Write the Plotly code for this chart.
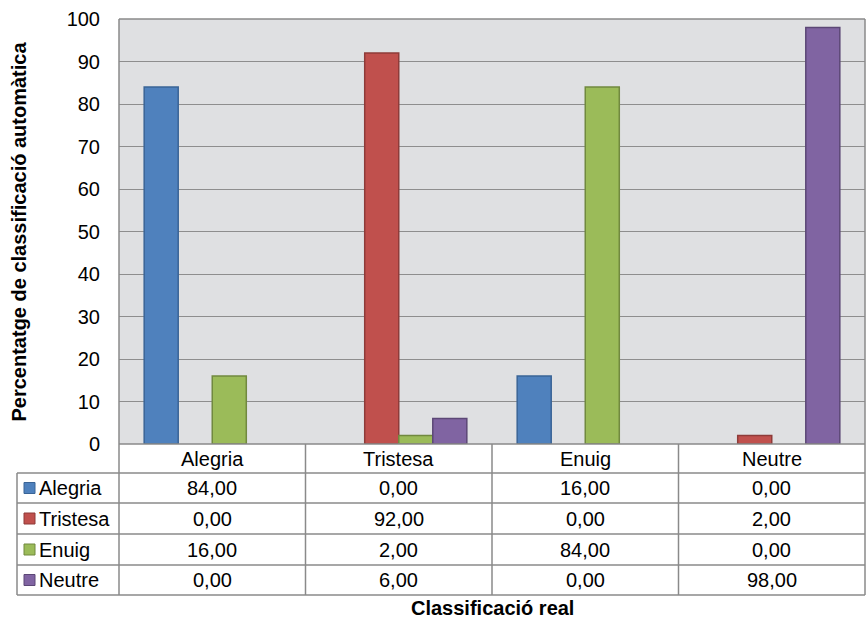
import plotly.graph_objects as go

# Data
categories = ["Alegria", "Tristesa", "Enuig", "Neutre"]
series_names = ["Alegria", "Tristesa", "Enuig", "Neutre"]
alegria = [84, 0, 16, 0]
tristesa = [0, 92, 0, 2]
enuig = [16, 2, 84, 0]
neutre = [0, 6, 0, 98]
series_values = [alegria, tristesa, enuig, neutre]
y_ticks = [0, 10, 20, 30, 40, 50, 60, 70, 80, 90, 100]

fills = ["#4F81BD", "#C0504D", "#9BBB59", "#8064A2"]
edges = ["#3A6496", "#8E3B39", "#71893F", "#5C4776"]

W, H = 867, 624
L, R, T, B = 119, 865, 19, 444          # plot area in pixels
FONT = "Liberation Sans, Arial, sans-serif"
TXT = 20
TITLE = 20
GRID = "#8E8E8E"
LINE = "#8A8A8A"


def pxx(x):
    return (x - L) / (R - L)


def pxy(y):
    return (B - y) / (B - T)


fig = go.Figure()
for name, vals, fc, ec in zip(series_names, series_values, fills, edges):
    fig.add_trace(go.Bar(
        x=categories, y=vals, name=name,
        marker=dict(color=fc,
                    line=dict(color=ec, width=[1.5 if v > 0 else 0 for v in vals])),
        showlegend=False, hoverinfo="x+y+name",
    ))

shapes = []
annotations = []

# Data table: row boundaries (pixels)
header_top, row_lines = B, [473, 503, 534, 565, 595]
table_left = 17

# horizontal lines
shapes.append(dict(type="line", xref="paper", yref="paper",
                   x0=0, x1=1, y0=pxy(header_top), y1=pxy(header_top),
                   line=dict(color=LINE, width=1.5)))
for yl in row_lines:
    shapes.append(dict(type="line", xref="paper", yref="paper",
                       x0=pxx(table_left), x1=1, y0=pxy(yl), y1=pxy(yl),
                       line=dict(color=LINE, width=1.5)))
# vertical lines: legend column, plot borders, category separators
shapes.append(dict(type="line", xref="paper", yref="paper",
                   x0=pxx(table_left), x1=pxx(table_left),
                   y0=pxy(row_lines[0]), y1=pxy(row_lines[-1]),
                   line=dict(color=LINE, width=1.5)))
for xp in (0, 1):
    shapes.append(dict(type="line", xref="paper", yref="paper",
                       x0=xp, x1=xp, y0=1, y1=pxy(row_lines[-1]),
                       line=dict(color=LINE, width=1.5)))
shapes.append(dict(type="line", xref="paper", yref="paper",
                   x0=0, x1=1, y0=1, y1=1,
                   line=dict(color=LINE, width=1.5)))
for i in range(1, len(categories)):
    shapes.append(dict(type="line", xref="x", yref="paper",
                       x0=i - 0.5, x1=i - 0.5,
                       y0=0, y1=pxy(row_lines[-1]),
                       line=dict(color=LINE, width=1.5)))

# header row: category names
for i, c in enumerate(categories):
    annotations.append(dict(x=i, xref="x", y=pxy((header_top + row_lines[0]) / 2),
                            yref="paper", text=c, showarrow=False,
                            font=dict(family=FONT, size=TXT, color="#000"),
                            xanchor="center", yanchor="middle"))

# value rows with legend keys
tops = row_lines[:-1]
bots = row_lines[1:]
for r, (name, vals, fc, ec) in enumerate(zip(series_names, series_values, fills, edges)):
    yc = (tops[r] + bots[r]) / 2
    shapes.append(dict(type="rect", xref="paper", yref="paper",
                       x0=pxx(24), x1=pxx(35), y0=pxy(yc - 5.5), y1=pxy(yc + 5.5),
                       fillcolor=fc, line=dict(color=ec, width=1)))
    annotations.append(dict(x=pxx(37), xref="paper", y=pxy(yc), yref="paper",
                            text=name, showarrow=False,
                            font=dict(family=FONT, size=TXT, color="#000"),
                            xanchor="left", yanchor="middle"))
    for i, v in enumerate(vals):
        annotations.append(dict(x=i, xref="x", y=pxy(yc), yref="paper",
                                text=f"{v:.2f}".replace(".", ","), showarrow=False,
                                font=dict(family=FONT, size=TXT, color="#000"),
                                xanchor="center", yanchor="middle"))

# axis titles
annotations.append(dict(x=pxx(18), xref="paper", y=0.5, yref="paper",
                        text="<b>Percentatge de classificació automàtica</b>",
                        textangle=-90, showarrow=False,
                        font=dict(family=FONT, size=TITLE, color="#000"),
                        xanchor="center", yanchor="middle"))
annotations.append(dict(x=0.5, xref="paper", y=pxy(608), yref="paper",
                        text="<b>Classificació real</b>", showarrow=False,
                        font=dict(family=FONT, size=TITLE, color="#000"),
                        xanchor="center", yanchor="middle"))

fig.update_layout(
    width=W, height=H,
    margin=dict(l=L, r=W - R, t=T, b=H - B, pad=0),
    paper_bgcolor="white", plot_bgcolor="#DFE0E2",
    barmode="group", bargap=0.27, bargroupgap=0,
    shapes=shapes, annotations=annotations,
    font=dict(family=FONT, color="#000"),
)
fig.update_xaxes(showticklabels=False, showgrid=False, zeroline=False,
                 showline=False, range=[-0.5, len(categories) - 0.5])
fig.update_yaxes(range=[0, 100], tickvals=y_ticks, showgrid=True,
                 gridcolor=GRID, gridwidth=1.3, zeroline=False, showline=False,
                 ticks="", ticklabelstandoff=18,
                 tickfont=dict(family=FONT, size=TXT, color="#000"))

fig.write_html("out.html")
